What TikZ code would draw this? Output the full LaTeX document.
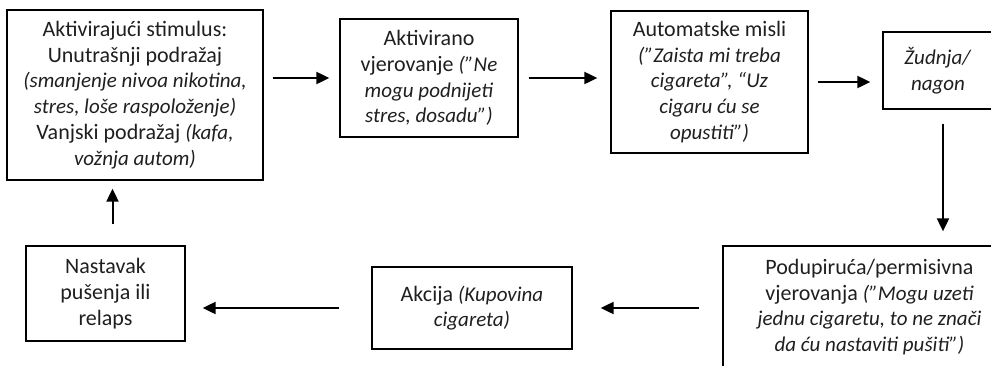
\documentclass[tikz,border=0pt]{standalone}
\usepackage{fontspec}
\setmainfont{Carlito}[ItalicFeatures={Scale=0.955}]
\usetikzlibrary{arrows.meta}
\begin{document}
\begin{tikzpicture}[x=1pt,y=-1pt,
  box/.style={draw=black,line width=1.3pt,align=center,inner sep=0pt,
    font=\fontsize{22}{25.7}\selectfont,text=black!88},
  arr/.style={line width=2pt,-{Triangle[length=13pt,width=12pt]}}]
\useasboundingbox (0,0) rectangle (991,365);
\clip (0,0) rectangle (991,365);
\node[box,minimum width=256pt,minimum height=170pt] (b1) at (135,95)
  {Aktivirajući stimulus:\\Unutrašnji podražaj\\\textit{(smanjenje nivoa nikotina,}\\\textit{stres, loše raspoloženje)}\\Vanjski podražaj \textit{(kafa,}\\\textit{vožnja autom)}};
\node[box,minimum width=178pt,minimum height=118pt] (b2) at (429,78)
  {Aktivirano\\vjerovanje \textit{(”Ne}\\\textit{mogu podnijeti}\\\textit{stres, dosadu”)}};
\node[box,minimum width=197pt,minimum height=142pt] (b3) at (709.5,82)
  {Automatske misli\\\textit{(”Zaista mi treba}\\\textit{cigareta”, “Uz}\\\textit{cigaru ću se}\\\textit{opustiti”)}};
\node[box,minimum width=110pt,minimum height=77pt] (b4) at (938,70.5)
  {\textit{Žudnja/}\\\textit{nagon}};
\node[box,minimum width=293pt,minimum height=122pt] (b6) at (869.5,307)
  {Podupiruća/permisivna\\vjerovanja \textit{(”Mogu uzeti}\\\textit{jednu cigaretu, to ne znači}\\\textit{da ću nastaviti pušiti”)}};
\node[box,minimum width=200pt,minimum height=82pt] (b5) at (472,308)
  {Akcija \textit{(Kupovina}\\\textit{cigareta)}};
\node[box,minimum width=159pt,minimum height=95pt] (b7) at (105.5,293.5)
  {Nastavak\\pušenja ili\\relaps};
\draw[arr,shorten <=9pt,shorten >=10pt] (b1.east |- b2.west) -- (b2.west);
\draw[arr,shorten <=10pt,shorten >=13pt] (b2.east) -- (b3.west |- b2.east);
\draw[arr,shorten <=9pt,shorten >=12pt] (b3.east) -- (b4.west |- b3.east);
\draw[arr,shorten <=14pt,shorten >=14pt] ([xshift=5pt]b4.south) -- ([xshift=5pt]b4.south |- b6.north);
\draw[arr,shorten <=23pt,shorten >=28pt] (b6.west |- b5.east) -- (b5.east);
\draw[arr,shorten <=32pt,shorten >=17pt] (b5.west) -- (b7.east |- b5.west);
\draw[arr,shorten <=21pt,shorten >=8pt] ([xshift=7pt]b7.north) -- ([xshift=7pt]b7.north |- b1.south);
\end{tikzpicture}
\end{document}
